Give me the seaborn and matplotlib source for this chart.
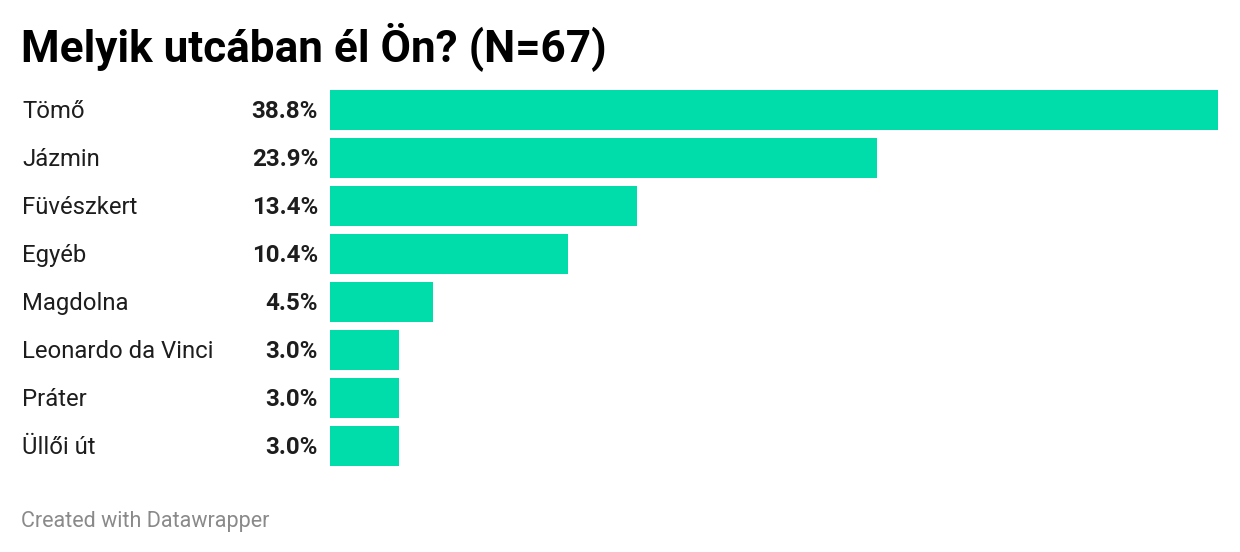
import matplotlib
matplotlib.use("Agg")
import matplotlib.pyplot as plt
import matplotlib.transforms as mtransforms
import seaborn as sns
import pandas as pd

categories = ["Tömő", "Jázmin", "Füvészkert", "Egyéb", "Magdolna",
              "Leonardo da Vinci", "Práter", "Üllői út"]
values = [38.8, 23.9, 13.4, 10.4, 4.5, 3.0, 3.0, 3.0]
value_labels = ["38.8%", "23.9%", "13.4%", "10.4%", "4.5%", "3.0%", "3.0%", "3.0%"]
title = "Melyik utcában él Ön? (N=67)"
footer = "Created with Datawrapper"

sns.set_theme(style="white")
plt.rcParams["font.family"] = ["Roboto", "DejaVu Sans"]

W, H = 1240, 552
fig = plt.figure(figsize=(W / 100, H / 100), dpi=100)
fig.patch.set_facecolor("white")

left, right = 330 / W, 1218 / W
top, bottom = 90 / H, 466 / H
ax = fig.add_axes([left, 1 - bottom, right - left, bottom - top])

df = pd.DataFrame({"cat": categories, "val": values})
bw = 40 / 48
sns.barplot(data=df, x="val", y="cat", orient="h", color="#00dcaa",
            saturation=1, width=bw, ax=ax, linewidth=0)
half = bw / 2
ax.set_ylim(len(categories) - 1 + half, -half)
ax.set_xlim(0, max(values))
ax.set_axis_off()

trans = mtransforms.blended_transform_factory(fig.transFigure, ax.transData)
trans = trans + mtransforms.ScaledTranslation(0, -8 / 100, fig.dpi_scale_trans)
for i, (c, lab) in enumerate(zip(categories, value_labels)):
    ax.text(22 / W, i, c, transform=trans, ha="left", va="baseline",
            fontsize=17.2, color="#1d1d1d")
    ax.text(318 / W, i, lab, transform=trans, ha="right", va="baseline",
            fontsize=17.4, color="#1d1d1d", fontweight="bold")

fig.text(21 / W, 1 - 61 / H, title, ha="left", va="baseline",
         fontsize=31.8, fontweight="bold", color="#000000")
fig.text(21 / W, 1 - 527 / H, footer, ha="left", va="baseline",
         fontsize=15.5, color="#8a8a8a")

fig.savefig("out.png", dpi=100, facecolor="white")
